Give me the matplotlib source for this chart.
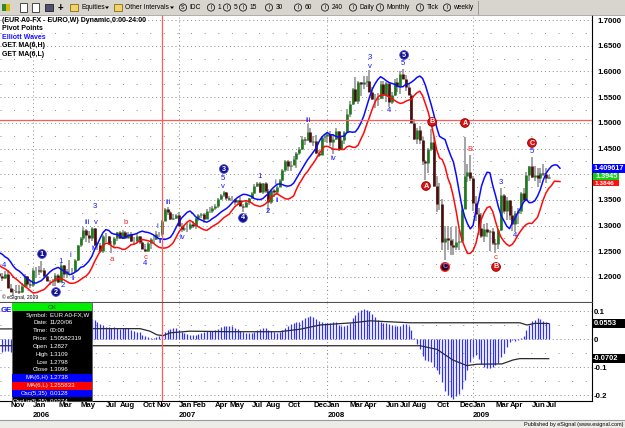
import datetime as dt
import calendar
import numpy as np
import pandas as pd
import matplotlib
matplotlib.use('Agg')
import matplotlib.pyplot as plt
from matplotlib.patches import Rectangle, Circle, Polygon

plt.rcParams['font.family'] = ['Liberation Sans', 'DejaVu Sans']

# weekly bars EUR A0-FX (bar dated on monday), first bar 2005-02-21, last 2009-07-13
first_monday = dt.date(2005, 2, 21)

high = [
    # 2005
    1.3290, 1.3290, 1.3470, 1.3480, 1.3340, 1.3030, 1.3000, 1.3000, 1.3110, 1.3090,
    1.3000, 1.2910, 1.2760, 1.2680, 1.2580, 1.2370, 1.2280, 1.2260, 1.2180, 1.2010,
    1.2200, 1.2250, 1.2170, 1.2400, 1.2480, 1.2460, 1.2330, 1.2500, 1.2590, 1.2460,
    1.2330, 1.2150, 1.2140, 1.2100, 1.2070, 1.2110, 1.2140, 1.1870, 1.1770, 1.1850,
    1.1850, 1.1880, 1.2060, 1.2020, 1.1920,
    # 2006
    1.2170, 1.2190, 1.2220, 1.2320, 1.2180, 1.2040, 1.1950, 1.1970, 1.2080, 1.2050,
    1.2270, 1.2240, 1.2160, 1.2330, 1.2170, 1.2350, 1.2630, 1.2770, 1.2980, 1.2940,
    1.2900, 1.2980, 1.2960, 1.2680, 1.2660, 1.2820, 1.2860, 1.2800, 1.2700, 1.2780,
    1.2880, 1.2900, 1.2910, 1.2900, 1.2880, 1.2880, 1.2780, 1.2850, 1.2790, 1.2730,
    1.2640, 1.2680, 1.2750, 1.2790, 1.2890, 1.2880, 1.3109, 1.3340, 1.3370, 1.3290,
    1.3220, 1.3220,
    # 2007
    1.3260, 1.3060, 1.2990, 1.3050, 1.3070, 1.3080, 1.3150, 1.3220, 1.3250, 1.3250,
    1.3320, 1.3370, 1.3380, 1.3420, 1.3540, 1.3610, 1.3680, 1.3660, 1.3580, 1.3580,
    1.3520, 1.3500, 1.3550, 1.3420, 1.3500, 1.3540, 1.3650, 1.3800, 1.3850, 1.3850,
    1.3820, 1.3840, 1.3720, 1.3700, 1.3720, 1.3800, 1.3910, 1.4110, 1.4280, 1.4280,
    1.4250, 1.4350, 1.4440, 1.4530, 1.4750, 1.4730, 1.4970, 1.4900, 1.4750, 1.4770,
    1.4470, 1.4740,
    # 2008
    1.4790, 1.4810, 1.4840, 1.4790, 1.4890, 1.4840, 1.4730, 1.4850, 1.5270, 1.5420,
    1.5680, 1.5900, 1.5820, 1.5800, 1.5920, 1.5920, 1.6020, 1.5700, 1.5560, 1.5580,
    1.5820, 1.5810, 1.5790, 1.5620, 1.5600, 1.5850, 1.5880, 1.6000, 1.6040, 1.5930,
    1.5760, 1.5570, 1.5080, 1.4900, 1.4940, 1.4720, 1.4280, 1.4510, 1.4870, 1.4720,
    1.3970, 1.3830, 1.3520, 1.3000, 1.3000, 1.2970, 1.2730, 1.3000, 1.2920, 1.3400,
    1.4720, 1.4200,
    # 2009 (from 2008-12-29)
    1.4370, 1.3960, 1.3580, 1.3340, 1.3250, 1.3040, 1.3060, 1.2920, 1.2950, 1.2730,
    1.2940, 1.3740, 1.3620, 1.3550, 1.3500, 1.3380, 1.3280, 1.3340, 1.3650, 1.3740,
    1.4050, 1.4150, 1.4340, 1.4150, 1.4130, 1.4120, 1.4200, 1.4120, 1.3980,
]

low = [
    # 2005
    1.3040, 1.3060, 1.3200, 1.3290, 1.2930, 1.2880, 1.2770, 1.2790, 1.2880, 1.2850,
    1.2810, 1.2640, 1.2570, 1.2500, 1.2170, 1.2140, 1.2030, 1.2040, 1.1920, 1.1870,
    1.1920, 1.2000, 1.1990, 1.2110, 1.2290, 1.2150, 1.2160, 1.2200, 1.2350, 1.2200,
    1.2060, 1.1990, 1.1920, 1.1900, 1.1930, 1.1960, 1.1780, 1.1700, 1.1640, 1.1680,
    1.1660, 1.1680, 1.1810, 1.1800, 1.1790,
    # 2006
    1.1800, 1.1990, 1.2030, 1.2080, 1.1980, 1.1920, 1.1840, 1.1830, 1.1830, 1.1890,
    1.1950, 1.1980, 1.1990, 1.2060, 1.2060, 1.2090, 1.2310, 1.2580, 1.2720, 1.2680,
    1.2660, 1.2700, 1.2610, 1.2530, 1.2460, 1.2460, 1.2690, 1.2620, 1.2460, 1.2570,
    1.2700, 1.2730, 1.2750, 1.2750, 1.2760, 1.2690, 1.2630, 1.2660, 1.2650, 1.2550,
    1.2480, 1.2490, 1.2550, 1.2660, 1.2720, 1.2770, 1.2798, 1.3090, 1.3200, 1.3100,
    1.3100, 1.3120,
    # 2007
    1.3000, 1.2870, 1.2900, 1.2870, 1.2920, 1.2950, 1.2940, 1.3080, 1.3140, 1.3060,
    1.3120, 1.3250, 1.3250, 1.3310, 1.3350, 1.3500, 1.3550, 1.3500, 1.3470, 1.3480,
    1.3410, 1.3410, 1.3380, 1.3260, 1.3370, 1.3400, 1.3520, 1.3620, 1.3750, 1.3640,
    1.3610, 1.3640, 1.3260, 1.3420, 1.3560, 1.3600, 1.3760, 1.3870, 1.4040, 1.4070,
    1.4060, 1.4170, 1.4120, 1.4380, 1.4480, 1.4570, 1.4650, 1.4620, 1.4540, 1.4400,
    1.4340, 1.4380,
    # 2008
    1.4620, 1.4600, 1.4550, 1.4400, 1.4660, 1.4460, 1.4480, 1.4580, 1.4820, 1.5120,
    1.5340, 1.5400, 1.5360, 1.5530, 1.5650, 1.5700, 1.5600, 1.5450, 1.5290, 1.5330,
    1.5470, 1.5470, 1.5400, 1.5300, 1.5360, 1.5520, 1.5600, 1.5560, 1.5850, 1.5620,
    1.5540, 1.4990, 1.4660, 1.4580, 1.4590, 1.4170, 1.3880, 1.4030, 1.4460, 1.3760,
    1.3260, 1.3300, 1.2520, 1.2330, 1.2530, 1.2420, 1.2420, 1.2530, 1.2530, 1.2670,
    1.3330, 1.3850,
    # 2009
    1.3870, 1.3290, 1.3080, 1.2810, 1.2760, 1.2690, 1.2780, 1.2510, 1.2620, 1.2460,
    1.2550, 1.2900, 1.3250, 1.3110, 1.3110, 1.2890, 1.2880, 1.3040, 1.3220, 1.3470,
    1.3470, 1.3860, 1.3930, 1.3860, 1.3750, 1.3820, 1.3970, 1.3830, 1.3910,
]

close = [
    # 2005
    1.3250, 1.3240, 1.3410, 1.3330, 1.2980, 1.2950, 1.2810, 1.2900, 1.3060, 1.2940,
    1.2830, 1.2660, 1.2660, 1.2570, 1.2280, 1.2270, 1.2180, 1.2090, 1.1960, 1.1920,
    1.2150, 1.2070, 1.2130, 1.2350, 1.2440, 1.2190, 1.2270, 1.2460, 1.2430, 1.2250,
    1.2090, 1.2040, 1.2080, 1.2010, 1.1980, 1.2060, 1.1790, 1.1710, 1.1700, 1.1720,
    1.1710, 1.1830, 1.2020, 1.1870, 1.1840,
    # 2006
    1.2130, 1.2140, 1.2110, 1.2140, 1.2010, 1.1920, 1.1930, 1.1920, 1.2030, 1.1910,
    1.2240, 1.2050, 1.2120, 1.2110, 1.2110, 1.2340, 1.2620, 1.2750, 1.2910, 1.2820,
    1.2750, 1.2950, 1.2630, 1.2630, 1.2500, 1.2790, 1.2790, 1.2640, 1.2650, 1.2760,
    1.2880, 1.2750, 1.2880, 1.2760, 1.2840, 1.2700, 1.2700, 1.2800, 1.2680, 1.2550,
    1.2510, 1.2670, 1.2740, 1.2740, 1.2830, 1.2830, 1.3096, 1.3330, 1.3270, 1.3130,
    1.3150, 1.3200,
    # 2007
    1.3000, 1.2930, 1.2950, 1.2950, 1.3040, 1.3000, 1.3140, 1.3210, 1.3230, 1.3120,
    1.3290, 1.3290, 1.3350, 1.3380, 1.3520, 1.3600, 1.3650, 1.3530, 1.3520, 1.3510,
    1.3450, 1.3500, 1.3380, 1.3370, 1.3450, 1.3530, 1.3640, 1.3780, 1.3830, 1.3660,
    1.3820, 1.3680, 1.3450, 1.3690, 1.3650, 1.3750, 1.3880, 1.4080, 1.4260, 1.4150,
    1.4180, 1.4290, 1.4410, 1.4500, 1.4690, 1.4660, 1.4830, 1.4630, 1.4650, 1.4420,
    1.4380, 1.4720,
    # 2008
    1.4750, 1.4780, 1.4630, 1.4690, 1.4840, 1.4500, 1.4660, 1.4830, 1.5180, 1.5360,
    1.5660, 1.5430, 1.5790, 1.5750, 1.5800, 1.5820, 1.5600, 1.5460, 1.5470, 1.5490,
    1.5760, 1.5550, 1.5770, 1.5400, 1.5540, 1.5800, 1.5710, 1.5940, 1.5860, 1.5700,
    1.5550, 1.5000, 1.4680, 1.4860, 1.4670, 1.4260, 1.4210, 1.4490, 1.4630, 1.3770,
    1.3420, 1.3420, 1.2680, 1.2750, 1.2720, 1.2620, 1.2590, 1.2690, 1.2710, 1.3330,
    1.3970, 1.4040,
    # 2009
    1.3920, 1.3430, 1.3220, 1.2960, 1.2800, 1.2940, 1.2880, 1.2890, 1.2670, 1.2640,
    1.2910, 1.3590, 1.3280, 1.3490, 1.3200, 1.3040, 1.3250, 1.3280, 1.3630, 1.3490,
    1.3990, 1.4150, 1.3950, 1.3990, 1.3920, 1.4030, 1.4000, 1.3930, 1.3945,
]

# black lines of the lower pane, vertices (week no., value)
osc_up_wk = [-11.8, 21.4, 38.2, 41.7, 44.2, 46.4, 48.9, 56.0, 70.3, 88.0, 95.3,
             102.4, 114.0, 120.2, 126.2, 134.5, 173.7, 176.2, 179.1, 184]
osc_up = [0.036, 0.037, 0.037, 0.028, 0.015, 0.012, 0.022, 0.028, 0.026, 0.026, 0.035,
          0.050, 0.058, 0.065, 0.062, 0.058, 0.058, 0.050, 0.056, 0.0553]
osc_lo_wk = [-11.8, 138.1, 144.1, 149.8, 154.8, 158.4, 167.3, 171.2, 173.7, 184]
osc_lo = [-0.024, -0.024, -0.037, -0.075, -0.095, -0.090, -0.089, -0.075, -0.070, -0.0702]

month_ticks = ['2005-11', '2006-01', '2006-03', '2006-05', '2006-07', '2006-08', '2006-10',
               '2006-11', '2007-01', '2007-02', '2007-04', '2007-05', '2007-07', '2007-08',
               '2007-10', '2007-12', '2008-01', '2008-03', '2008-04', '2008-06', '2008-07',
               '2008-08', '2008-10', '2008-12', '2009-01', '2009-03', '2009-04', '2009-06',
               '2009-07']
years = [2006, 2007, 2008, 2009]

# elliott wave marks (text, week no., price)
blue_txt = [('4', -10.4, 1.2233), ('1', 10.0, 1.2311), ('2', 10.7, 1.1844), ('i', 13.2, 1.2428),
            ('ii', 14.3, 1.1980), ('3', 22.1, 1.3362), ('iii', 19.3, 1.3070), ('v', 22.5, 1.3070),
            ('iv', 21.8, 1.2545), ('4', 40.0, 1.2253), ('i', 44.2, 1.2992), ('ii', 45.3, 1.2700),
            ('iii', 48.2, 1.3459), ('iv', 53.2, 1.2778), ('5', 67.8, 1.3926), ('v', 67.8, 1.3770),
            ('1', 81.0, 1.3946), ('2', 83.8, 1.3265), ('i', 86.3, 1.3829), ('ii', 87.1, 1.3498),
            ('iii', 98.1, 1.5054), ('iv', 107.0, 1.4315), ('3', 120.2, 1.6261), ('v', 120.2, 1.6105),
            ('5', 132.0, 1.6163), ('4', 127.0, 1.5230), ('3', 167.0, 1.3829), ('4', 172.0, 1.2817),
            ('5', 178.0, 1.4432)]
red_txt = [('a', 28.2, 1.2350), ('b', 33.2, 1.3051), ('c', 40.3, 1.2389), ('B', 155.9, 1.4471),
           ('c', 165.2, 1.2370)]
blue_circ = [('1', 3.2, 1.2447), ('2', 8.2, 1.1708), ('3', 68.1, 1.4101), ('4', 74.9, 1.3148),
             ('5', 132.4, 1.6319)]
red_circ = [('A', 140.2, 1.3770), ('B', 142.4, 1.5016), ('A', 154.1, 1.4996), ('B', 165.2, 1.2195),
            ('C', 178.0, 1.4607)]
dark_circ = [('C', 147.0, 1.2195)]

# data window contents
box_rows = [('Symbol:', 'EUR A0-FX,W', None), ('Date:', '11/20/06', None), ('Time:', '00:00', None),
            ('Price:', '1.50582319', None), ('Open', '1.2827', None), ('High', '1.3109', None),
            ('Low', '1.2798', None), ('Close', '1.3096', None), ('MA(6,H)', '1.2738', '#0000ff'),
            ('MA(6,L)', '1.255833', '#ff0000'), ('Osc(5,35)', '0.0128', '#0000ff'),
            ('OscLin(5,35)', '0.0274', None)]
cursor_week = 46
cursor_price = 1.50582319

# ------------------------------------------------------------------
high = np.array(high)
low = np.array(low)
close = np.array(close)
dates = [first_monday + dt.timedelta(weeks=i) for i in range(len(close))]
i0 = (dt.date(2006, 1, 2) - first_monday).days // 7
wk = np.arange(len(close)) - i0
opn = np.r_[close[0], close[:-1]]
up = close >= opn

ma_h = pd.Series(high).rolling(6).mean().to_numpy()
ma_l = pd.Series(low).rolling(6).mean().to_numpy()
c = pd.Series(close)
osc = (c.rolling(5).mean() - c.rolling(35).mean()).to_numpy()


def first_bar(y, m):
    return next(w for w, d in zip(wk, dates) if d.year == y and d.month == m)


W, H = 625, 428
fig = plt.figure(figsize=(6.25, 4.28), dpi=100)


def frac(x0, y0, x1, y1):
    return [x0 / W, 1 - y1 / H, (x1 - x0) / W, (y1 - y0) / H]


ax = fig.add_axes(frac(0, 15, 592, 302))
ax2 = fig.add_axes(frac(0, 303, 592, 401))
ov = fig.add_axes([0, 0, 1, 1], zorder=5)

xlim = (-33 / 2.803, (592 - 33) / 2.803)
grid_kw = dict(color='#8a8a8a', lw=0.7, zorder=0)

# price pane
ax.set_xlim(*xlim)
ax.set_ylim(1.15136, 1.70973)
for v in np.arange(1.20, 1.701, 0.05):
    ax.axhline(v, ls=(0, (1, 3)), **grid_kw)
for v in np.arange(1.175, 1.70, 0.05):
    ax.axhline(v, ls=(0, (1, 13)), **grid_kw)
for y in years:
    ax.axvline(first_bar(y, 1), ls=(0, (1, 3)), **grid_kw)
    ax2.axvline(first_bar(y, 1), ls=(0, (1, 3)), **grid_kw)

ax.vlines(wk, low, high, color='#a4a4a4', lw=1.4, zorder=2)
ax.vlines(wk[up], opn[up], close[up], color='#1d7a1d', lw=1.9, zorder=3)
ax.vlines(wk[~up], opn[~up], close[~up], color='#4a0c0c', lw=1.9, zorder=3)
ax.plot(wk + 4, ma_h, color='#0a0aff', lw=1.1, zorder=4)
ax.plot(wk + 4, ma_l, color='#ff0a0a', lw=1.1, zorder=4)

ax.axvline(cursor_week, color='#ff5a5a', lw=0.9, zorder=5)
ax.axhline(cursor_price, color='#ff5a5a', lw=0.9, zorder=5)

for t, x, y in blue_txt:
    ax.text(x, y, t, color='#1515ff', fontsize=5.6, ha='center', va='center', zorder=6)
for t, x, y in red_txt:
    ax.text(x, y, t, color='#ff2020', fontsize=5.6, ha='center', va='center', zorder=6)
for t, x, y in blue_circ:
    ax.text(x, y, t, color='white', fontsize=5.2, fontweight='bold', ha='center', va='center', zorder=7,
            bbox=dict(boxstyle='circle,pad=0.12', fc='#12128a', ec='#4a4ae0', lw=0.6))
for t, x, y in red_circ:
    ax.text(x, y, t, color='white', fontsize=5.2, fontweight='bold', ha='center', va='center', zorder=7,
            bbox=dict(boxstyle='circle,pad=0.12', fc='#e01010', ec='#900000', lw=0.6))
for t, x, y in dark_circ:
    ax.text(x, y, t, color='#8080ff', fontsize=5.2, fontweight='bold', ha='center', va='center', zorder=7,
            bbox=dict(boxstyle='circle,pad=0.12', fc='#300018', ec='#ff2020', lw=0.9))

ax.set_xticks([])
ax.yaxis.tick_right()
lev = np.arange(1.20, 1.701, 0.05)
ax.set_yticks(lev)
# 1.4000 sits under the last-value boxes, as in the original
ax.set_yticklabels(['' if abs(v - 1.40) < 1e-6 else '%.4f' % v for v in lev],
                   fontsize=5.7, fontweight='bold')
ax.tick_params(axis='y', length=0, pad=4)
ax.spines['left'].set_visible(False)
ax.spines['top'].set_visible(False)
ax.spines['right'].set_color('black')
ax.spines['bottom'].set_color('#505050')

# oscillator pane
ax2.set_xlim(*xlim)
ax2.set_ylim(-0.2214, 0.1286)
for v in [0.1, 0.0, -0.1, -0.2]:
    ax2.axhline(v, ls=(0, (1, 3)), **grid_kw)
for v in [0.05, -0.05, -0.15]:
    ax2.axhline(v, ls=(0, (1, 13)), **grid_kw)
ax2.vlines(wk, 0, osc, color='#3030ff', lw=0.9, zorder=2)
ax2.plot(osc_up_wk, osc_up, color='#2a2a2a', lw=0.9, zorder=3)
ax2.plot(osc_lo_wk, osc_lo, color='#2a2a2a', lw=0.9, zorder=3)
ax2.axvline(cursor_week, color='#ff5a5a', lw=0.9, zorder=5)
ax2.set_xticks([])
ax2.yaxis.tick_right()
ax2.set_yticks([0.1, 0.0, -0.1, -0.2])
ax2.set_yticklabels(['0.1', '0', '-0.1', '-0.2'], fontsize=5.7, fontweight='bold')
ax2.tick_params(axis='y', length=0, pad=1.5)
ax2.spines['left'].set_visible(False)
ax2.spines['top'].set_visible(False)
ax2.spines['right'].set_color('black')
ax2.spines['bottom'].set_color('black')

xt = ax2.get_xaxis_transform()
for s in month_ticks:
    y, m = int(s[:4]), int(s[5:])
    ax2.text(first_bar(y, m), -0.05, calendar.month_abbr[m], transform=xt, fontsize=5.6,
             fontweight='bold', ha='left', va='center', clip_on=False)
for y in years:
    ax2.text(first_bar(y, 1), -0.143, str(y), transform=xt, fontsize=5.6,
             fontweight='bold', ha='left', va='center', clip_on=False)

# overlay in pixel units: toolbar, legend, data window, value boxes
ov.set_xlim(0, W)
ov.set_ylim(H, 0)
ov.axis('off')

ov.add_patch(Rectangle((0, 0), W, 15, fc='#d8d5ce', ec='none'))
ov.plot([0, W], [15, 15], color='#a0a0a0', lw=0.6)
ov.add_patch(Rectangle((2, 4), 4, 7, fc='#2f8a2f', ec='none'))
ov.add_patch(Rectangle((6, 4), 4, 7, fc='#e0b800', ec='none'))
for x0 in [20, 32]:
    ov.add_patch(Rectangle((x0, 3), 7, 9, fc='white', ec='#303030', lw=0.6))
ov.add_patch(Rectangle((45, 4), 8, 7, fc='#505070', ec='#202020', lw=0.6))
ov.text(60, 7.5, '+', fontsize=7, fontweight='bold', ha='center', va='center')
for x0 in [70, 114]:
    ov.add_patch(Rectangle((x0, 4), 8, 7, fc='#f2d26a', ec='#8a6a10', lw=0.6))
ov.text(81, 7.5, 'Equities', fontsize=4.8, va='center')
ov.text(125, 7.5, 'Other Intervals', fontsize=4.8, va='center')
for xt_ in [107, 172]:
    ov.add_patch(Polygon([[xt_ - 2, 6.5], [xt_ + 2, 6.5], [xt_, 9]], closed=True, fc='black', ec='none'))
tool_items = [('S', 183, 'IDC'), ('I', 211, '1'), ('I', 227, '5'), ('I', 243, '15'), ('I', 269, '30'),
              ('I', 298, '60'), ('I', 325, '240'), ('I', 353, 'Daily'), ('I', 380, 'Monthly'),
              ('I', 420, 'Tick'), ('I', 447, 'weekly')]
for sym, cx, lab in tool_items:
    ov.add_patch(Circle((cx, 7.5), 3.6, fc='none', ec='#202020', lw=0.6))
    ov.text(cx, 7.6, sym, fontsize=3.8, ha='center', va='center')
    ov.text(cx + 6.5, 7.5, lab, fontsize=4.8, va='center')
ov.plot([478, 478], [1, 14], color='#909090', lw=0.6)

legend = [('(EUR A0-FX - EURO,W) Dynamic,0:00-24:00', 'black'), ('Pivot Points', 'black'),
          ('Elliott Waves', '#1515ff'), ('GET MA(6,H)', 'black'), ('GET MA(6,L)', 'black')]
for k, (t, col) in enumerate(legend):
    ov.text(2, 20.5 + 8.4 * k, t, color=col, fontsize=5.0, fontweight='bold', va='center')
ov.text(2, 297, '\u00a9 eSignal, 2009', fontsize=3.6, va='center')
ov.text(1, 310, 'GE', color='#1515ff', fontsize=5.6, fontweight='bold', va='center')

# data window
ov.add_patch(Rectangle((12, 303), 80, 98, fc='black', ec='#606060', lw=0.5))
ov.add_patch(Rectangle((12, 303), 80, 8, fc='#00ee00', ec='none'))
ov.text(52, 307.2, 'OK', fontsize=4.6, ha='center', va='center', color='#104010')
clip = Rectangle((12, 303), 80, 98, transform=ov.transData)
for k, (lab, val, bg) in enumerate(box_rows):
    yc = 315 + 7.85 * k
    if bg:
        ov.add_patch(Rectangle((12, yc - 3.9), 80, 7.8, fc=bg, ec='none'))
    t1 = ov.text(48, yc, lab, color='white', fontsize=4.4, ha='right', va='center')
    t2 = ov.text(50, yc, val, color='white', fontsize=4.4, ha='left', va='center')
    t1.set_clip_path(clip)
    t2.set_clip_path(clip)

# last value boxes on the right scale
ov.add_patch(Rectangle((593, 180), 26, 6, fc='#ff1010', ec='none'))
ov.text(595, 183.4, '1.3846', color='white', fontsize=4.6, fontweight='bold', va='center')
ov.add_patch(Rectangle((593, 173), 26, 7, fc='#10d010', ec='none'))
ov.text(595, 176.4, '1.3945', color='white', fontsize=5.2, fontweight='bold', va='center')
ov.add_patch(Rectangle((592, 164), 33, 9, fc='#0000ff', ec='none'))
ov.text(593.5, 168.6, '1.409617', color='white', fontsize=5.2, fontweight='bold', va='center')
ov.add_patch(Rectangle((592, 319), 33, 8.5, fc='black', ec='none'))
ov.text(594, 323.2, '0.0553', color='white', fontsize=5.4, fontweight='bold', va='center')
ov.add_patch(Rectangle((592, 354), 33, 8.5, fc='black', ec='none'))
ov.text(593, 358.2, '-0.0702', color='white', fontsize=5.4, fontweight='bold', va='center')

# bottom strip
ov.add_patch(Rectangle((0, 420), W, 8, fc='#eeece6', ec='none'))
ov.plot([0, W], [420, 420], color='#9a9a9a', lw=0.8)
ov.text(623, 424.3, 'Published by eSignal (www.esignal.com)', fontsize=4.0, ha='right', va='center')

fig.savefig('out.png', dpi=100)
